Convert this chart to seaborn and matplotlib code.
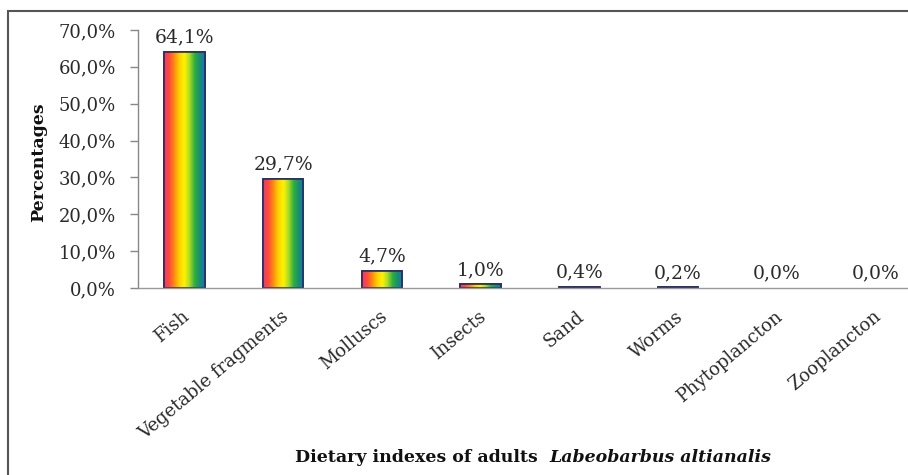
import numpy as np
import matplotlib
matplotlib.use("Agg")
import matplotlib.pyplot as plt
import matplotlib.transforms as mtransforms
from matplotlib.colors import LinearSegmentedColormap
from matplotlib.patches import Rectangle
import seaborn as sns

categories = ["Fish", "Vegetable fragments", "Molluscs", "Insects", "Sand",
              "Worms", "Phytoplancton", "Zooplancton"]
values = [64.1, 29.7, 4.7, 1.0, 0.4, 0.2, 0.0, 0.0]
bar_labels = ["64,1%", "29,7%", "4,7%", "1,0%", "0,4%", "0,2%", "0,0%", "0,0%"]
yticks = [0, 10, 20, 30, 40, 50, 60, 70]
ytick_labels = ["0,0%", "10,0%", "20,0%", "30,0%", "40,0%", "50,0%", "60,0%", "70,0%"]

sns.set_theme(style="white")
plt.rcParams["font.family"] = ["DejaVu Serif"]

W, H = 908, 475
fig = plt.figure(figsize=(W / 100, H / 100), dpi=100)
ax = fig.add_axes([138 / W, (H - 288) / H, (W - 138) / W, (288 - 30) / H])

EDGE = "#2a2d5c"
sns.barplot(x=categories, y=values, color="#ffcc00", width=0.41,
            edgecolor=EDGE, linewidth=1.2, ax=ax)

rainbow = LinearSegmentedColormap.from_list(
    "rainbow_bar",
    ["#ec3a6e", "#ff4a3a", "#ff8a10", "#ffd200", "#fff200",
     "#a8dc28", "#2fae3c", "#169070", "#1f6fbf"])
grad = np.linspace(0, 1, 256).reshape(1, -1)

# fill each bar with a left-to-right rainbow gradient
for patch, v in zip(ax.patches, values):
    x0, y0 = patch.get_x(), patch.get_y()
    w, h = patch.get_width(), patch.get_height()
    if v <= 0:
        patch.set_linewidth(0)
        continue
    im = ax.imshow(grad, cmap=rainbow, aspect="auto",
                   extent=(x0, x0 + w, y0, y0 + h), zorder=patch.get_zorder(),
                   interpolation="bilinear")
    im.set_clip_path(patch)
    ax.add_patch(Rectangle((x0, y0), w, h, fill=False, edgecolor=EDGE,
                           linewidth=1.2, zorder=patch.get_zorder() + 0.5))
    patch.set_facecolor("none")

for i, (v, lab) in enumerate(zip(values, bar_labels)):
    ax.text(i, v + 1.4, lab, ha="center", va="bottom", fontsize=13.5, color="#2a2a2a")

ax.set_xlim(-0.47, 7.33)
ax.set_ylim(0, 70)
ax.set_yticks(yticks)
ax.set_yticklabels(ytick_labels, fontsize=13, color="#2a2a2a")
ax.set_xticks(range(len(categories)))
ax.set_xticklabels(categories, rotation=40, ha="right", va="center",
                   rotation_mode="anchor", fontsize=13, color="#2a2a2a")
ax.tick_params(axis="y", which="major", left=True, length=6, width=1,
               color="#888888", pad=10)
ax.tick_params(axis="x", which="major", bottom=False, pad=0)
ax.set_xlabel("")
ax.set_ylabel("")

offset = mtransforms.ScaledTranslation(3 / 100, -18 / 100, fig.dpi_scale_trans)
for lab in ax.get_xticklabels():
    lab.set_transform(lab.get_transform() + offset)

for s in ["top", "right"]:
    ax.spines[s].set_visible(False)
ax.spines["left"].set_color("#888888")
ax.spines["bottom"].set_color("#999999")
ax.spines["left"].set_linewidth(1)
ax.spines["bottom"].set_linewidth(1)

fig.text(39 / W, 1 - 162 / H, "Percentages", rotation=90, ha="center", va="center",
         fontsize=12.5, fontweight="bold", color="#111111")
fig.text(538 / W, 1 - 458 / H, "Dietary indexes of adults", ha="right", va="center",
         fontsize=12.5, fontweight="bold", color="#111111")
fig.text(549 / W, 1 - 458 / H, "Labeobarbus altianalis", ha="left", va="center",
         fontsize=12.5, fontweight="bold", fontstyle="italic", color="#111111")

# outer frame
frame = Rectangle((8 / W, -0.05), 1.0, 1 - 11 / H + 0.05, transform=fig.transFigure,
                  fill=False, edgecolor="#555555", linewidth=1.5)
fig.patches.append(frame)

fig.savefig("out.png", dpi=100)
